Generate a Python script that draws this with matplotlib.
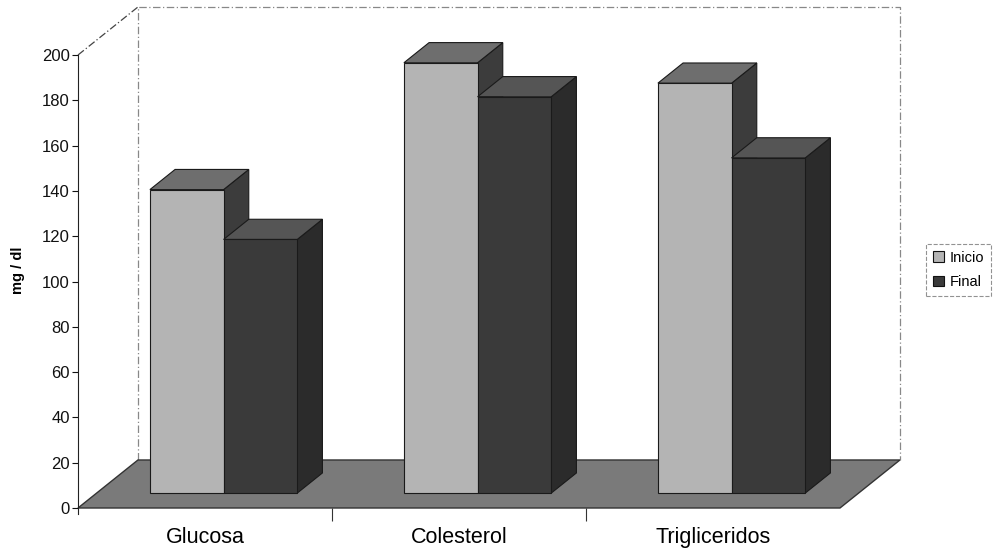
import matplotlib.pyplot as plt
from matplotlib.patches import Polygon, Patch
import numpy as np

plt.rcParams['font.family'] = ['Liberation Sans', 'DejaVu Sans']

# datos (mg/dl)
categorias = ['Glucosa', 'Colesterol', 'Trigliceridos']
inicio = [134, 190, 181]
final = [112, 175, 148]
series = ['Inicio', 'Final']

# colores (cara frontal, superior, lateral)
col_inicio = ('#b4b4b4', '#6e6e6e', '#3c3c3c')
col_final = ('#3a3a3a', '#555555', '#2b2b2b')

# profundidad oblicua en unidades de datos
DX, DY = 0.236, 21.2
d0, d1 = 0.31, 0.73   # profundidad de las barras
ancho = 0.29
x0 = 0.21


def proj(x, y, d):
    return (x + d * DX, y + d * DY)


fig = plt.figure(figsize=(10.02, 5.5), dpi=100)
ax = fig.add_axes([78 / 1002, 42 / 550, 762 / 1002, 453 / 550])
ax.set_xlim(0, 3)
ax.set_ylim(0, 200)

# suelo
piso = [proj(0, 0, 0), proj(3, 0, 0), proj(3, 0, 1), proj(0, 0, 1)]
ax.add_patch(Polygon(piso, closed=True, facecolor='#7a7a7a', edgecolor='#333333',
                     lw=1.0, clip_on=False, zorder=1))

# pared del fondo (lineas discontinuas)
kw = dict(color='#888888', lw=0.9, ls=(0, (6, 2, 1, 2)), clip_on=False, zorder=0.5)
esq = [proj(0, 0, 1), proj(0, 200, 1), proj(3, 200, 1), proj(3, 0, 1)]
ax.plot([p[0] for p in esq], [p[1] for p in esq], **kw)
a, b = proj(0, 200, 0), proj(0, 200, 1)
ax.plot([a[0], b[0]], [a[1], b[1]], color='#444444', lw=0.9,
        ls=(0, (6, 2, 1, 2)), clip_on=False, zorder=0.5)


def barra(xl, val, cols):
    xr = xl + ancho
    base = 0
    frente = [proj(xl, base, d0), proj(xr, base, d0), proj(xr, val, d0), proj(xl, val, d0)]
    arriba = [proj(xl, val, d0), proj(xr, val, d0), proj(xr, val, d1), proj(xl, val, d1)]
    lado = [proj(xr, base, d0), proj(xr, base, d1), proj(xr, val, d1), proj(xr, val, d0)]
    for poly, c in zip([lado, arriba, frente], [cols[2], cols[1], cols[0]]):
        ax.add_patch(Polygon(poly, closed=True, facecolor=c, edgecolor='#1a1a1a',
                             lw=0.8, clip_on=False, zorder=3))


for i in range(len(categorias)):
    barra(i + x0, inicio[i], col_inicio)
    barra(i + x0 + ancho, final[i], col_final)

# ejes
for s in ['top', 'right', 'bottom']:
    ax.spines[s].set_visible(False)
ax.spines['left'].set_color('#222222')
ax.spines['left'].set_bounds(-2.5, 200)
ax.set_yticks(np.arange(0, 201, 20))
ax.tick_params(axis='y', length=4, width=0.8, labelsize=12, pad=2, colors='#111111')
ax.set_xticks([0.5, 1.5, 2.5])
ax.set_xticklabels(categorias, fontsize=15.5)
ax.set_xticks([1, 2], minor=True)
ax.tick_params(axis='x', which='major', length=0, pad=14)
ax.tick_params(axis='x', which='minor', length=9, width=0.8, color='#333333')

fig.text(18 / 1002, 1 - 270 / 550, 'mg / dl', rotation=90, fontsize=10.5,
         fontweight='bold', ha='center', va='center')

handles = [Patch(facecolor=col_inicio[0], edgecolor='#111111', lw=0.8),
           Patch(facecolor=col_final[0], edgecolor='#111111', lw=0.8)]
leg = fig.legend(handles, series, loc='center left',
                 bbox_to_anchor=(926 / 1002, 1 - 270 / 550), fontsize=10.5,
                 handlelength=0.75, handleheight=0.75, handletextpad=0.35,
                 borderpad=0.5, labelspacing=0.7, fancybox=False,
                 borderaxespad=0)
leg.get_frame().set_edgecolor('#777777')
leg.get_frame().set_linestyle('--')
leg.get_frame().set_linewidth(0.8)

fig.savefig('out.png', dpi=100)
